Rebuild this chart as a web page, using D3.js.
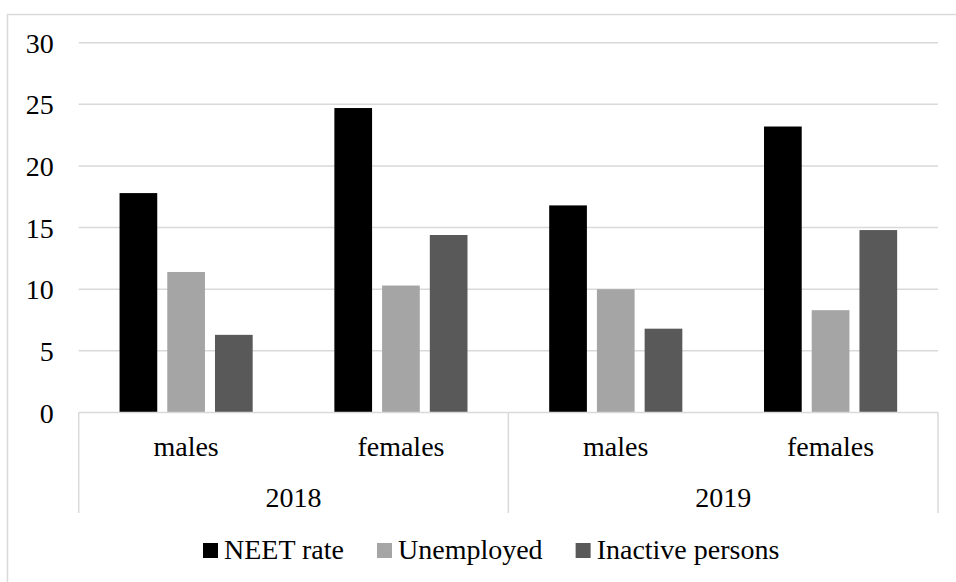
<!DOCTYPE html>
<html>
<head>
<meta charset="utf-8">
<script src="https://cdn.jsdelivr.net/npm/d3@7"></script>
<style>
  html, body { margin: 0; padding: 0; background: #fff; }
  svg text { font-family: 'Liberation Serif', serif; }
</style>
</head>
<body>
<div id="chart"></div>
<script>
'use strict';

// chart values
var years = ['2018', '2019'];
var groups = ['males', 'females'];
var seriesNames = ['NEET rate', 'Unemployed', 'Inactive persons'];
var neetRate = [17.8, 24.7, 16.8, 23.2];
var unemployed = [11.4, 10.3, 10.0, 8.3];
var inactive = [6.3, 14.4, 6.8, 14.8];
var yTicks = [0, 5, 10, 15, 20, 25, 30];

var colors = ['#000000', '#a5a5a5', '#595959'];
var fontFamily = "'Liberation Serif', serif";
var fontSize = 28;

var w = 956, h = 582;
var plotLeft = 78.7, plotRight = 938, plotTop = 42.7, plotBottom = 412.5;

var svg = d3.select('#chart')
  .append('svg')
  .attr('width', w)
  .attr('height', h)
  .style('display', 'block');

// outer chart border
svg.append('rect')
  .attr('x', 7.5).attr('y', 14.5)
  .attr('width', 960).attr('height', 600)
  .attr('fill', 'none')
  .attr('stroke', '#d9d9d9')
  .attr('stroke-width', 1.5);

var cats = [];
years.forEach(function (yr) {
  groups.forEach(function (g) { cats.push(yr + '|' + g); });
});

var rows = cats.map(function (c, i) {
  return { cat: c, values: [neetRate[i], unemployed[i], inactive[i]] };
});

var y = d3.scaleLinear().domain([0, 30]).range([plotBottom, plotTop]);
var x0 = d3.scaleBand().domain(cats).range([plotLeft, plotRight]);
var x1 = d3.scaleBand().domain(seriesNames).range([0, x0.bandwidth()])
  .paddingInner(0.21).paddingOuter(0.856);
var xYear = d3.scaleBand().domain(years).range([plotLeft, plotRight]);

// gridlines
svg.append('g')
  .selectAll('line')
  .data(yTicks.filter(function (t) { return t > 0; }))
  .enter().append('line')
  .attr('x1', plotLeft).attr('x2', plotRight)
  .attr('y1', function (d) { return y(d); })
  .attr('y2', function (d) { return y(d); })
  .attr('stroke', '#d9d9d9')
  .attr('stroke-width', 1.5);

// y tick labels
var yAxis = svg.append('g')
  .attr('transform', 'translate(' + (plotLeft - 25) + ',0)')
  .call(d3.axisLeft(y).tickValues(yTicks).tickSize(0).tickPadding(0));
yAxis.attr('font-family', fontFamily).attr('font-size', fontSize);
yAxis.select('.domain').remove();
yAxis.selectAll('text')
  .attr('fill', '#000')
  .attr('dy', '0.34em');

// bars
svg.append('g')
  .selectAll('g')
  .data(rows)
  .enter().append('g')
  .attr('transform', function (d) { return 'translate(' + x0(d.cat) + ',0)'; })
  .selectAll('rect')
  .data(function (d) { return d.values.map(function (v, i) { return { s: seriesNames[i], v: v, i: i }; }); })
  .enter().append('rect')
  .attr('x', function (d) { return x1(d.s); })
  .attr('y', function (d) { return y(d.v); })
  .attr('width', x1.bandwidth())
  .attr('height', function (d) { return y(0) - y(d.v); })
  .attr('fill', function (d) { return colors[d.i]; });

// category axis line and separators
var axisG = svg.append('g')
  .attr('font-family', fontFamily)
  .attr('font-size', fontSize);
axisG.append('line')
  .attr('x1', plotLeft).attr('x2', plotRight)
  .attr('y1', y(0)).attr('y2', y(0))
  .attr('stroke', '#d9d9d9').attr('stroke-width', 1.5);

var seps = [plotLeft].concat(years.map(function (yr) { return xYear(yr) + xYear.bandwidth(); }));
axisG.selectAll('line.sep')
  .data(seps)
  .enter().append('line')
  .attr('class', 'sep')
  .attr('x1', function (d) { return d; })
  .attr('x2', function (d) { return d; })
  .attr('y1', y(0)).attr('y2', 513)
  .attr('stroke', '#d9d9d9').attr('stroke-width', 1.5);

// group labels
axisG.selectAll('text.grp')
  .data(cats)
  .enter().append('text')
  .attr('class', 'grp')
  .attr('x', function (d) { return x0(d) + x0.bandwidth() / 2; })
  .attr('y', 456)
  .attr('text-anchor', 'middle')
  .text(function (d) { return d.split('|')[1]; });

// year labels
axisG.selectAll('text.yr')
  .data(years)
  .enter().append('text')
  .attr('class', 'yr')
  .attr('x', function (d) { return xYear(d) + xYear.bandwidth() / 2; })
  .attr('y', 506.5)
  .attr('text-anchor', 'middle')
  .text(function (d) { return d; });

// legend
var legend = svg.append('g')
  .attr('font-family', fontFamily)
  .attr('font-size', fontSize);
var lx = 203;
seriesNames.forEach(function (name, i) {
  var item = legend.append('g').attr('transform', 'translate(' + lx + ',0)');
  item.append('rect')
    .attr('x', 0).attr('y', 543)
    .attr('width', 15).attr('height', 15)
    .attr('fill', colors[i]);
  var t = item.append('text')
    .attr('x', 21).attr('y', 559)
    .text(name);
  lx += 21 + t.node().getComputedTextLength() + 33;
});
</script>
</body>
</html>
